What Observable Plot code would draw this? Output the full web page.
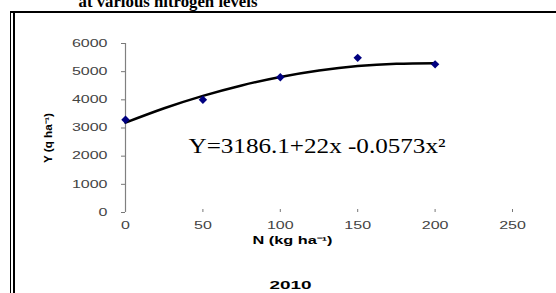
<!DOCTYPE html>
<html>
<head>
<meta charset="utf-8">
<script src="https://cdn.jsdelivr.net/npm/d3@7"></script>
<script src="https://cdn.jsdelivr.net/npm/@observablehq/plot@0.6"></script>
<style>
  html, body { margin: 0; padding: 0; background: #fff; }
  #wrap { position: relative; width: 556px; height: 293px; overflow: hidden; }
  #frame-outer { position: absolute; left: 10px; top: 11px; width: 560px; height: 300px;
    border-left: 1.5px solid #000; border-top: 2px solid #000; box-sizing: border-box; }
  #frame-inner { position: absolute; left: 13px; top: 13px; width: 1.5px; height: 300px; background: #000; }
  #chart { position: absolute; left: 0; top: 0; }
</style>
</head>
<body>
<div id="wrap">
  <div id="frame-outer"></div>
  <div id="frame-inner"></div>
  <div id="chart"></div>
</div>
<script>
// Observed data (N rate, yield)
const nRates = [0, 50, 100, 150, 200];
const yields = [3290, 4000, 4800, 5490, 5260];

// Trend-line points
const trendN = [0, 25, 50, 75, 100, 125, 150, 175, 200];
const trendY = [3190, 3700, 4140, 4510, 4810, 5040, 5200, 5280, 5300];

// Tick labels
const xTicks = [0, 50, 100, 150, 200, 250];
const yTicks = [0, 1000, 2000, 3000, 4000, 5000, 6000];

const titleText = "at various nitrogen levels";
const equationText = "Y=3186.1+22x -0.0573x\u00B2";
const yearText = "2010";
const xLabel = "N (kg ha\u207B\u00B9)";
const yLabel = "Y (q ha\u207B\u00B9)";

const points = nRates.map((n, i) => ({n, y: yields[i]}));
const trend = trendN.map((n, i) => ({n, y: trendY[i]}));

const sans = "Arial, 'Liberation Sans', sans-serif";
const serif = "'Times New Roman', 'Liberation Serif', serif";

const chart = Plot.plot({
  width: 556,
  height: 293,
  marginLeft: 125,
  marginRight: 44,
  marginTop: 43,
  marginBottom: 81,
  style: {background: "transparent", fontFamily: sans},
  x: {domain: [0, 250]},
  y: {domain: [0, 6000]},
  marks: [
    Plot.axisY({ticks: yTicks, tickSize: 4, tickPadding: 14, label: null, tickFormat: d3.format("d"),
      fontSize: 10, fill: "#444", stroke: "#777"}),
    Plot.axisX({ticks: xTicks.slice(1), tickSize: 3, tickPadding: -3, label: null, text: null,
      anchor: "bottom", dy: -3, stroke: "#777"}),
    Plot.text(xTicks, {x: d => d, frameAnchor: "bottom", dy: 16, text: d => String(d),
      fontSize: 10, fill: "#444", fontFamily: sans}),
    Plot.ruleX([0], {stroke: "#808080", strokeWidth: 1.2}),
    Plot.line(trend, {x: "n", y: "y", curve: "natural", stroke: "#000", strokeWidth: 2.5}),
    Plot.dot(points, {x: "n", y: "y", symbol: "diamond2", r: 3.8, fill: "#000080", stroke: "none"}),
    Plot.text([equationText], {frameAnchor: "top-left", dx: 63, dy: 103, text: d => d,
      textAnchor: "start", lineAnchor: "middle", fontFamily: serif, fontSize: 21, fill: "#000"}),
    Plot.text([xLabel], {frameAnchor: "bottom-left", dx: 167, dy: 31, text: d => d, textAnchor: "middle",
      fontFamily: sans, fontSize: 10, fontWeight: "bold", fill: "#000"}),
    Plot.text([yLabel], {frameAnchor: "left", dx: -77, dy: 10, text: d => d, rotate: -90, textAnchor: "middle",
      fontFamily: sans, fontSize: 10, fontWeight: "bold", fill: "#000"}),
    Plot.text([yearText], {frameAnchor: "bottom-left", dx: 165, dy: 76, text: d => d, textAnchor: "middle",
      fontFamily: sans, fontSize: 11, fontWeight: "bold", fill: "#000"}),
    Plot.text([titleText], {frameAnchor: "top-left", dx: -47, dy: -37, text: d => d,
      textAnchor: "start", lineAnchor: "bottom", fontFamily: serif, fontSize: 17, fontWeight: "bold", fill: "#000"})
  ]
});
document.getElementById("chart").appendChild(chart);

// Horizontal stretching of text to match the reference's wide glyphs
const targetWidths = new Map([
  [equationText, 257], [xLabel, 80], [yLabel, 50], [yearText, 42], [titleText, 179]
]);
chart.querySelectorAll("text").forEach(t => {
  const s = t.textContent;
  let target = null;
  if (targetWidths.has(s)) target = targetWidths.get(s);
  else if (/^\d+$/.test(s)) target = t.getComputedTextLength() * 1.6;
  if (target != null) {
    t.setAttribute("textLength", target);
    t.setAttribute("lengthAdjust", "spacingAndGlyphs");
  }
});
</script>
</body>
</html>
